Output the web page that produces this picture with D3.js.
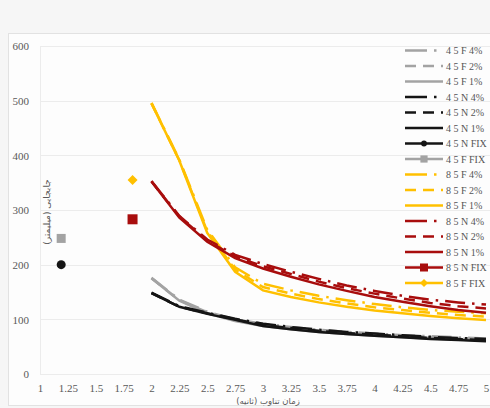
<!DOCTYPE html>
<html>
<head>
<meta charset="utf-8">
<script src="https://cdn.jsdelivr.net/npm/d3@7"></script>
<style>
  body { margin: 0; background: #f6f6f6; }
  svg { display: block; }
</style>
</head>
<body>
<div id="chart"></div>
<script>
// periods (s) for the curves
var periods = [2, 2.25, 2.5, 2.75, 3, 3.25, 3.5, 3.75, 4, 4.25, 4.5, 4.75, 5];

// displacement (mm)
var f45_4 = [176, 136, 114, 100, 92, 86, 81, 77, 74, 71, 69, 67, 65];
var f45_2 = [175, 135, 113, 98, 90, 84, 79, 75, 72, 69, 67, 65, 63];
var f45_1 = [175, 134, 111, 97, 88, 82, 77, 73, 70, 67, 65, 63, 61];
var n45_4 = [149, 124, 112, 101, 92, 86, 81, 77, 74, 71, 68, 66, 64];
var n45_2 = [148, 123, 111, 100, 90, 84, 79, 75, 72, 69, 66, 64, 62];
var n45_1 = [148, 123, 110, 99, 88, 82, 77, 73, 70, 67, 64, 62, 60];
var f85_4 = [496, 392, 264, 195, 165, 153, 143, 135, 128, 122, 117, 114, 111];
var f85_2 = [495, 391, 261, 191, 159, 147, 137, 129, 122, 117, 112, 108, 105];
var f85_1 = [495, 390, 258, 187, 153, 141, 131, 123, 116, 111, 106, 102, 99];
var n85_4 = [353, 289, 246, 218, 201, 187, 174, 162, 152, 143, 136, 131, 127];
var n85_2 = [352, 288, 244, 215, 197, 183, 169, 157, 147, 138, 130, 124, 120];
var n85_1 = [352, 286, 242, 212, 193, 178, 164, 152, 141, 132, 124, 117, 112];

// fixed-base single points [period, displacement]
var n45_fix = [1.19, 200];
var f45_fix = [1.19, 248];
var n85_fix = [1.83, 283];
var f85_fix = [1.83, 355];

var xTicks = [1, 1.25, 1.5, 1.75, 2, 2.25, 2.5, 2.75, 3, 3.25, 3.5, 3.75, 4, 4.25, 4.5, 4.75, 5];
var yTicks = [0, 100, 200, 300, 400, 500, 600];

var gray = '#a3a3a3', black = '#151515', yellow = '#ffc000', red = '#a80d0d';
var dash4 = '20,7,2.5,7', dash2 = '11,7';

var series = [
  { name: '4 5 F 4%', values: f45_4, color: gray, dash: dash4 },
  { name: '4 5 F 2%', values: f45_2, color: gray, dash: dash2 },
  { name: '4 5 F 1%', values: f45_1, color: gray, dash: null },
  { name: '4 5 N 4%', values: n45_4, color: black, dash: dash4 },
  { name: '4 5 N 2%', values: n45_2, color: black, dash: dash2 },
  { name: '4 5 N 1%', values: n45_1, color: black, dash: null },
  { name: '4 5 N FIX', point: n45_fix, color: black, marker: 'circle' },
  { name: '4 5 F FIX', point: f45_fix, color: gray, marker: 'square' },
  { name: '8 5 F 4%', values: f85_4, color: yellow, dash: dash4 },
  { name: '8 5 F 2%', values: f85_2, color: yellow, dash: dash2 },
  { name: '8 5 F 1%', values: f85_1, color: yellow, dash: null },
  { name: '8 5 N 4%', values: n85_4, color: red, dash: dash4 },
  { name: '8 5 N 2%', values: n85_2, color: red, dash: dash2 },
  { name: '8 5 N 1%', values: n85_1, color: red, dash: null },
  { name: '8 5 N FIX', point: n85_fix, color: red, marker: 'bigsquare' },
  { name: '8 5 F FIX', point: f85_fix, color: yellow, marker: 'diamond' }
];

var width = 490, height = 408;
var svg = d3.select('#chart').append('svg')
  .attr('width', width)
  .attr('height', height);

// outer chart box
svg.append('rect')
  .attr('x', 8.5).attr('y', 33.5)
  .attr('width', 490).attr('height', 372)
  .attr('fill', '#fdfdfd')
  .attr('stroke', '#e2e2e2');

var x = d3.scaleLinear().domain([1, 5]).range([40, 486]);
var y = d3.scaleLinear().domain([0, 600]).range([374, 46]);

// plot area border
svg.append('rect')
  .attr('x', 40.5).attr('y', 46.5)
  .attr('width', 460).attr('height', 328)
  .attr('fill', 'none')
  .attr('stroke', '#ececec');

// grid
svg.append('g')
  .selectAll('line')
  .data(yTicks)
  .enter().append('line')
  .attr('x1', 40).attr('x2', 490)
  .attr('y1', function(d) { return Math.round(y(d)) + 0.5; })
  .attr('y2', function(d) { return Math.round(y(d)) + 0.5; })
  .attr('stroke', '#ececec');

// axes
var yAxis = svg.append('g')
  .attr('transform', 'translate(29,0)')
  .call(d3.axisLeft(y).tickValues(yTicks).tickSize(0).tickPadding(0));
var xAxis = svg.append('g')
  .attr('transform', 'translate(0,384)')
  .call(d3.axisBottom(x).tickValues(xTicks).tickSize(0).tickPadding(0).tickFormat(d3.format('')));
[yAxis, xAxis].forEach(function(a) {
  a.select('.domain').remove();
  a.selectAll('text')
    .attr('font-family', '"Liberation Serif", serif')
    .attr('font-size', '11px')
    .attr('fill', '#595959');
});
yAxis.selectAll('text').attr('dy', '0.35em');
xAxis.selectAll('text').attr('dy', '0.71em');

// axis titles
svg.append('text')
  .attr('transform', 'translate(50,212) rotate(-90)')
  .attr('text-anchor', 'middle')
  .attr('font-family', '"DejaVu Sans", sans-serif')
  .attr('font-size', '9px')
  .attr('fill', '#595959')
  .text('جابجایی (میلیمتر)');

svg.append('text')
  .attr('x', 268).attr('y', 404)
  .attr('text-anchor', 'middle')
  .attr('font-family', '"DejaVu Sans", sans-serif')
  .attr('font-size', '8.5px')
  .attr('fill', '#595959')
  .text('زمان تناوب (ثانیه)');

// lines
var line = d3.line()
  .x(function(d, i) { return x(periods[i]); })
  .y(function(d) { return y(d); });

var drawOrder = [2, 1, 0, 5, 4, 3, 10, 9, 8, 13, 12, 11];
var lines = svg.append('g');
drawOrder.forEach(function(k) {
  var s = series[k];
  lines.append('path')
    .attr('d', line(s.values))
    .attr('fill', 'none')
    .attr('stroke', s.color)
    .attr('stroke-width', 2.5)
    .attr('stroke-dasharray', s.dash);
});

function drawMarker(g, type, cx, cy, color, scale) {
  scale = scale || 1;
  if (type === 'circle') {
    g.append('circle').attr('cx', cx).attr('cy', cy).attr('r', 4.5 * scale).attr('fill', color);
  } else if (type === 'square') {
    var s = 9 * scale;
    g.append('rect').attr('x', cx - s / 2).attr('y', cy - s / 2).attr('width', s).attr('height', s).attr('fill', color);
  } else if (type === 'bigsquare') {
    var b = 10 * scale;
    g.append('rect').attr('x', cx - b / 2).attr('y', cy - b / 2).attr('width', b).attr('height', b).attr('fill', color);
  } else if (type === 'diamond') {
    var r = 5 * scale;
    g.append('path')
      .attr('d', 'M' + cx + ',' + (cy - r) + 'L' + (cx + r) + ',' + cy + 'L' + cx + ',' + (cy + r) + 'L' + (cx - r) + ',' + cy + 'Z')
      .attr('fill', color);
  }
}

// fixed-base points
var pts = svg.append('g');
series.filter(function(s) { return s.point; }).forEach(function(s) {
  drawMarker(pts, s.marker, x(s.point[0]), y(s.point[1]), s.color, 1);
});

// legend
var legend = svg.append('g');
series.forEach(function(s, i) {
  var ly = 50.5 + i * 15.5;
  var g = legend.append('g');
  g.append('line')
    .attr('x1', 405).attr('x2', 443)
    .attr('y1', ly).attr('y2', ly)
    .attr('stroke', s.color)
    .attr('stroke-width', 2.5)
    .attr('stroke-dasharray', s.dash ? (s.dash === dash4 ? '22,7,2.5,7' : '11,7') : null);
  if (s.marker) drawMarker(g, s.marker, 424, ly, s.color, s.marker === 'circle' ? 0.65 : 0.8);
  g.append('text')
    .attr('x', 446).attr('y', ly)
    .attr('dy', '0.35em')
    .attr('font-family', '"Liberation Serif", serif')
    .attr('font-size', '10px')
    .attr('fill', '#555')
    .text(s.name);
});
</script>
</body>
</html>
